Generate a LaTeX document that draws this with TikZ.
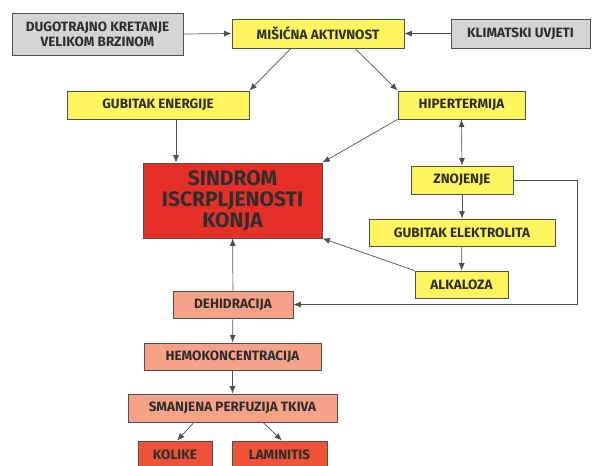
\documentclass[tikz,border=0pt]{standalone}
\usepackage{fontspec}
\setmainfont{Fira Sans}
\usepackage{tikz}
\usetikzlibrary{arrows.meta}
\definecolor{boxyellow}{HTML}{FFF55E}
\definecolor{boxgray}{HTML}{D4D4D4}
\definecolor{boxred}{HTML}{E63027}
\definecolor{boxsalmon}{HTML}{F5A289}
\definecolor{boxorange}{HTML}{EE5337}
\definecolor{edgegray}{HTML}{505050}
\definecolor{textdark}{HTML}{2E2E2E}

\begin{document}
\begin{tikzpicture}[x=1pt, y=-1pt,
        >={Latex[length=7.5pt,width=6pt]},
        box/.style={draw=edgegray, line width=0.8pt, inner sep=0pt, align=center,
            text=textdark, font=\bfseries\fontsize{13.5}{15}\selectfont},
        link/.style={draw=edgegray, line width=0.7pt, ->}]
        \useasboundingbox (0, 0) rectangle (592, 466);

        \node[box, fill=boxgray, minimum width=171pt, minimum height=42pt] (dugotrajno) at (97.5, 34) {DUGOTRAJNO KRETANJE\\VELIKOM BRZINOM};
        \node[box, fill=boxyellow, minimum width=172pt, minimum height=29pt] (misicna) at (318, 33.5) {MIŠIĆNA AKTIVNOST};
        \node[box, fill=boxgray, minimum width=139pt, minimum height=29pt] (klimatski) at (520.5, 33.5) {KLIMATSKI UVJETI};

        \node[box, fill=boxyellow, minimum width=182pt, minimum height=28pt] (energija) at (158, 105) {GUBITAK ENERGIJE};
        \node[box, fill=boxyellow, minimum width=127pt, minimum height=28pt] (hipertermija) at (461.5, 105) {HIPERTERMIJA};

        \node[box, fill=boxred, minimum width=179pt, minimum height=75pt, font=\bfseries\fontsize{21}{21}\selectfont] (sindrom) at (232.5, 200.5) {SINDROM\\ISCRPLJENOSTI\\KONJA};
        \node[box, fill=boxyellow, minimum width=102pt, minimum height=28pt] (znojenje) at (462, 180) {ZNOJENJE};
        \node[box, fill=boxyellow, minimum width=186pt, minimum height=27pt] (elektrolit) at (462, 232.5) {GUBITAK ELEKTROLITA};
        \node[box, fill=boxyellow, minimum width=93pt, minimum height=27pt] (alkaloza) at (461.5, 284.5) {ALKALOZA};

        \node[box, fill=boxsalmon, minimum width=120pt, minimum height=27pt] (dehidracija) at (233, 304.5) {DEHIDRACIJA};
        \node[box, fill=boxsalmon, minimum width=177pt, minimum height=27pt] (hemo) at (232.5, 356.5) {HEMOKONCENTRACIJA};
        \node[box, fill=boxsalmon, minimum width=209pt, minimum height=28pt] (perfuzija) at (232.5, 408) {SMANJENA PERFUZIJA TKIVA};
        \node[box, fill=boxorange, minimum width=74pt, minimum height=28pt] (kolike) at (175, 455) {KOLIKE};
        \node[box, fill=boxorange, minimum width=95pt, minimum height=28pt] (laminitis) at (279.5, 455) {LAMINITIS};

        \coordinate (bend) at (577, 180);

        \draw[link] (dugotrajno.east) -- (misicna.west);
        \draw[link] (klimatski.west) -- (misicna.east);
        \draw[link] ([xshift=-27pt]misicna.south) -- (energija.north east);
        \draw[link] ([xshift=37pt]misicna.south) -- (hipertermija.north west);

        \draw[link] ([xshift=18pt]energija.south) -- ([xshift=18pt]energija.south |- sindrom.north);
        \draw[link] (hipertermija.south west) -- (sindrom.north east);
        \draw[link, <->] (hipertermija.south) -- (znojenje.north);
        \draw[link] (znojenje) -- (elektrolit);
        \draw[link] (elektrolit) -- (alkaloza);
        \draw[link] (alkaloza.north west) -- (sindrom.south east);
        \draw[link] (znojenje.east) -- (bend) |- (dehidracija.east);

        \draw[link] (dehidracija) -- (sindrom);
        \draw[link] (dehidracija) -- (hemo);
        \draw[link] (hemo) -- (perfuzija);
        \draw[link] ([xshift=-38.5pt]perfuzija.south) -- ([xshift=2pt]kolike.north);
        \draw[link] ([xshift=30.5pt]perfuzija.south) -- ([xshift=2.5pt]laminitis.north);
    \end{tikzpicture}
\end{document}
